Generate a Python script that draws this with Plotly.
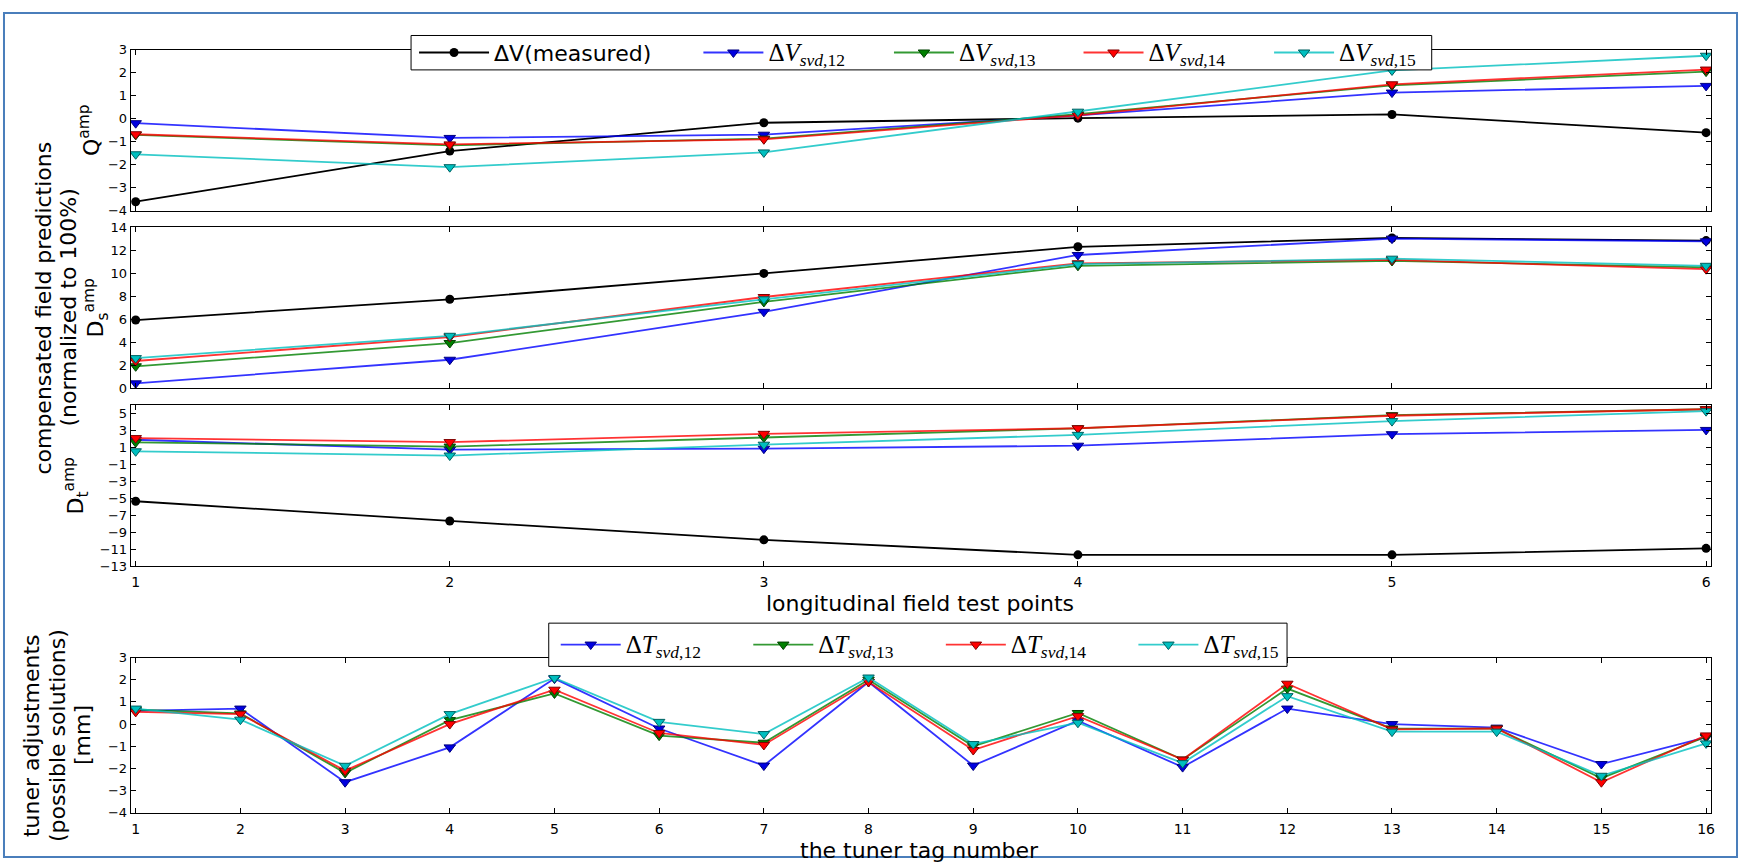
import plotly.graph_objects as go

W, H = 1746, 867

# ---------------- data ----------------
test_points = [1, 2, 3, 4, 5, 6]
tuner_tags = list(range(1, 17))

q_measured = [-3.6, -1.4, -0.17, 0.03, 0.19, -0.6]
q_svd12 = [-0.19, -0.83, -0.69, 0.15, 1.14, 1.43]
q_svd13 = [-0.7, -1.15, -0.86, 0.2, 1.45, 2.05]
q_svd14 = [-0.67, -1.11, -0.89, 0.15, 1.5, 2.14]
q_svd15 = [-1.54, -2.1, -1.46, 0.31, 2.1, 2.74]

ds_measured = [5.93, 7.73, 9.98, 12.29, 13.06, 12.83]
ds_svd12 = [0.43, 2.48, 6.64, 11.58, 13.0, 12.77]
ds_svd13 = [1.91, 3.93, 7.5, 10.64, 11.06, 10.5]
ds_svd14 = [2.37, 4.45, 7.93, 10.86, 11.15, 10.35]
ds_svd15 = [2.62, 4.56, 7.73, 10.78, 11.26, 10.64]

dt_measured = [-5.35, -7.67, -9.9, -11.67, -11.67, -10.9]
dt_svd12 = [1.9, 0.74, 0.85, 1.2, 2.56, 3.06]
dt_svd13 = [1.6, 1.1, 2.17, 3.25, 4.8, 5.5]
dt_svd14 = [2.1, 1.63, 2.6, 3.26, 4.73, 5.5]
dt_svd15 = [0.54, 0.04, 1.32, 2.48, 4.1, 5.27]

t_svd12 = [0.6, 0.7, -2.62, -1.05, 2.05, -0.2, -1.87, 1.9, -1.87, 0.15, -1.94, 0.7, 0.0, -0.16, -1.8, -0.6]
t_svd13 = [0.65, 0.48, -2.2, 0.18, 1.38, -0.52, -0.84, 2.0, -1.0, 0.5, -1.6, 1.6, -0.2, -0.2, -2.44, -0.57]
t_svd14 = [0.55, 0.45, -2.1, 0.0, 1.55, -0.4, -0.94, 1.9, -1.17, 0.36, -1.6, 1.82, -0.24, -0.2, -2.62, -0.51]
t_svd15 = [0.7, 0.2, -1.88, 0.45, 2.08, 0.1, -0.45, 2.1, -0.9, 0.06, -1.76, 1.26, -0.34, -0.34, -2.33, -0.87]

# ---------------- styles ----------------
svd_colors = {
    "12": ("rgba(0,0,255,0.8)", "#0000e0", "#000080"),
    "13": ("rgba(0,128,0,0.8)", "#008000", "#004000"),
    "14": ("rgba(255,0,0,0.8)", "#ff0000", "#800000"),
    "15": ("rgba(0,191,191,0.8)", "#00bfbf", "#006060"),
}
SERIF = "Liberation Serif"
SANS = "DejaVu Sans"


def px_x(p):
    return p / W


def px_y(p):
    return 1 - p / H


def svd_name(letter, k):
    return (f"<span style='font-family:{SERIF};font-size:25px'>"
            f"Δ<i>{letter}</i><sub><i>svd</i>,{k}</sub></span>")


fig = go.Figure()

panels = [
    ("x", "y", [q_measured, q_svd12, q_svd13, q_svd14, q_svd15]),
    ("x2", "y2", [ds_measured, ds_svd12, ds_svd13, ds_svd14, ds_svd15]),
    ("x3", "y3", [dt_measured, dt_svd12, dt_svd13, dt_svd14, dt_svd15]),
]
keys = ["12", "13", "14", "15"]
for pi, (xa, ya, series) in enumerate(panels):
    first = pi == 0
    fig.add_trace(go.Scatter(
        x=test_points, y=series[0], xaxis=xa, yaxis=ya, mode="lines+markers",
        name="ΔV(measured)",
        line=dict(color="black", width=1.8),
        marker=dict(symbol="circle", size=9, color="black"),
        showlegend=first, legend="legend"))
    for k, ser, lg in zip(keys, series[1:], ["legend2", "legend3", "legend4", "legend5"]):
        lc, mc, ec = svd_colors[k]
        fig.add_trace(go.Scatter(
            x=test_points, y=ser, xaxis=xa, yaxis=ya, mode="lines+markers",
            name=svd_name("V", k),
            line=dict(color=lc, width=1.8),
            marker=dict(symbol="triangle-down", size=10, color=mc, line=dict(color=ec, width=1)),
            showlegend=first, legend=lg))

for k, ser, lg in zip(keys, [t_svd12, t_svd13, t_svd14, t_svd15],
                      ["legend6", "legend7", "legend8", "legend9"]):
    lc, mc, ec = svd_colors[k]
    fig.add_trace(go.Scatter(
        x=tuner_tags, y=ser, xaxis="x4", yaxis="y4", mode="lines+markers",
        name=svd_name("T", k),
        line=dict(color=lc, width=1.8),
        marker=dict(symbol="triangle-down", size=10, color=mc, line=dict(color=ec, width=1)),
        showlegend=True, legend=lg))

# ---------------- axes ----------------
xdom = [px_x(131), px_x(1715)]
common = dict(showline=True, linecolor="black", linewidth=1, mirror="ticks",
              ticks="inside", ticklen=5, tickcolor="black", showgrid=False,
              zeroline=False)
xfont = dict(family=SANS, size=14, color="black")
yfont = dict(family=SANS, size=13, color="black")

pad6 = 5 / 314.8
pad16 = 5 / 104.9
layout = dict(
    width=W, height=H, margin=dict(l=0, r=0, t=0, b=0),
    paper_bgcolor="white", plot_bgcolor="white",
    font=dict(family=SANS, color="black"),
    xaxis=dict(domain=xdom, anchor="y", range=[1 - pad6, 6 + pad6], tickvals=test_points,
               showticklabels=False, tickfont=xfont, **common),
    xaxis2=dict(domain=xdom, anchor="y2", range=[1 - pad6, 6 + pad6], tickvals=test_points,
                showticklabels=False, tickfont=xfont, **common),
    xaxis3=dict(domain=xdom, anchor="y3", range=[1 - pad6, 6 + pad6], tickvals=test_points,
                showticklabels=True, tickfont=xfont, ticklabelstandoff=3, **common),
    xaxis4=dict(domain=xdom, anchor="y4", range=[1 - pad16, 16 + pad16], tickvals=tuner_tags,
                showticklabels=True, tickfont=xfont, ticklabelstandoff=3, **common),
    yaxis=dict(domain=[px_y(207.5), px_y(43.5)], anchor="x", range=[-4, 3], dtick=1, tick0=0,
               tickfont=yfont, **common),
    yaxis2=dict(domain=[px_y(388), px_y(224)], anchor="x2", range=[0, 14], dtick=2, tick0=0,
                tickfont=yfont, **common),
    yaxis3=dict(domain=[px_y(569), px_y(405)], anchor="x3", range=[-13, 6], dtick=2, tick0=-13,
                tickfont=yfont, **common),
    yaxis4=dict(domain=[px_y(820), px_y(662)], anchor="x4", range=[-4, 3], dtick=1, tick0=0,
                tickfont=yfont, **common),
)

# ---------------- legends (one per entry, placed like the original columns) ----------------
top_starts = [420, 705, 896, 1086, 1277]
bot_starts = [562, 755, 948, 1141]
names = ["legend", "legend2", "legend3", "legend4", "legend5"]
for i, (nm, s) in enumerate(zip(names, top_starts)):
    layout[nm] = dict(x=px_x(s - 5), y=px_y(46.5), xanchor="left", yanchor="middle",
                      bgcolor="rgba(0,0,0,0)", borderwidth=0, itemwidth=70 if i == 0 else 60,
                      font=dict(family=SANS, size=22, color="black"))
for nm, s in zip(["legend6", "legend7", "legend8", "legend9"], bot_starts):
    layout[nm] = dict(x=px_x(s - 5), y=px_y(649), xanchor="left", yanchor="middle",
                      bgcolor="rgba(0,0,0,0)", borderwidth=0, itemwidth=60,
                      font=dict(family=SANS, size=22, color="black"))

fig.update_layout(**layout)

# legend frames + outer blue frame
shapes = [
    dict(type="rect", xref="paper", yref="paper", x0=px_x(412), x1=px_x(1435),
         y0=px_y(64), y1=px_y(29), line=dict(color="black", width=1), fillcolor="white", layer="above"),
    dict(type="rect", xref="paper", yref="paper", x0=px_x(550), x1=px_x(1290),
         y0=px_y(671), y1=px_y(627), line=dict(color="black", width=1), fillcolor="white", layer="above"),
    dict(type="rect", xref="paper", yref="paper", x0=px_x(4), x1=px_x(1741),
         y0=px_y(865), y1=px_y(6), line=dict(color="#4a7ebb", width=2), fillcolor="rgba(0,0,0,0)",
         layer="above"),
]
fig.update_layout(shapes=shapes)


def ann(text, x, y, size=22, angle=0):
    return dict(text=text, xref="paper", yref="paper", x=px_x(x), y=px_y(y),
                xanchor="center", yanchor="middle", showarrow=False, textangle=angle,
                font=dict(family=SANS, size=size, color="black"))


annotations = [
    ann("longitudinal field test points", 922, 607),
    ann("the tuner tag number", 922, 858),
    ann("compensated field predictions", 44, 306, angle=-90),
    ann("(normalized to 100%)", 69, 306, angle=-90),
    ann("Q<sup>amp</sup>", 90, 125.5, angle=-90),
    ann("D<sub>s</sub><sup>amp</sup>", 96, 306, angle=-90),
    ann("D<sub>t</sub><sup>amp</sup>", 76, 487, angle=-90),
    ann("tuner adjustments", 31, 741, angle=-90),
    ann("(possible solutions)", 57, 741, angle=-90),
    ann("[mm]", 82, 741, angle=-90),
]
fig.update_layout(annotations=annotations)

fig.write_html("out.html")
